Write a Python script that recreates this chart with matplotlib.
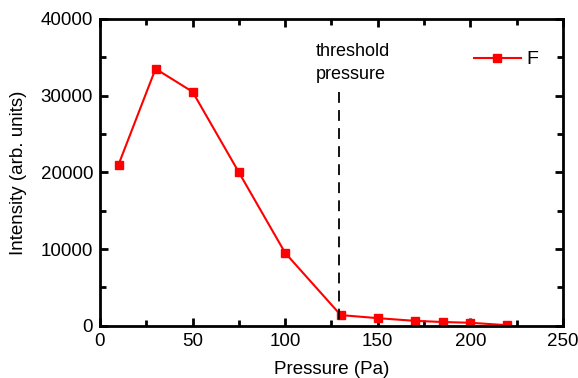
import numpy as np
import matplotlib
matplotlib.use('Agg')
import matplotlib.pyplot as plt
from matplotlib.ticker import MultipleLocator

# データ
pressure = [10, 30, 50, 75, 100, 130, 150, 170, 185, 200, 220]
intensity = [21000, 33500, 30500, 20000, 9500, 1400, 1000, 650, 500, 400, 80]
threshold = 129
threshold_top = 30500

plt.rcParams['font.family'] = ['Liberation Sans', 'DejaVu Sans']

fig = plt.figure(figsize=(5.78, 3.78), dpi=100)
ax = fig.add_axes([0.173, 0.138, 0.801, 0.812])

ax.plot(pressure, intensity, color='red', lw=1.5, marker='s', ms=6,
        label='F')
# 破線は上から描く
ax.plot([threshold, threshold], [threshold_top, 0], color='black',
        lw=1.3, ls=(0, (6, 4)))
ax.text(116.5, 36900, "threshold\npressure", fontsize=13, ha='left',
        va='top', linespacing=1.45)

ax.set_xlim(0, 250)
ax.set_ylim(0, 40000)
ax.xaxis.set_major_locator(MultipleLocator(50))
ax.xaxis.set_minor_locator(MultipleLocator(25))
ax.yaxis.set_major_locator(MultipleLocator(10000))
ax.yaxis.set_minor_locator(MultipleLocator(5000))
ax.tick_params(which='both', direction='in', top=True, right=True,
               width=2, labelsize=13.5)
ax.tick_params(which='major', length=6, pad=5)
ax.tick_params(which='minor', length=4)
for s in ax.spines.values():
    s.set_linewidth(2)

ax.set_xlabel("Pressure (Pa)", fontsize=13.5, labelpad=8)
ax.set_ylabel("Intensity (arb. units)", fontsize=13.5, labelpad=10)
ax.legend(loc='upper right', frameon=False, fontsize=14,
          bbox_to_anchor=(0.985, 0.953), handlelength=2.4,
          handletextpad=0.3)

plt.savefig('out.png', dpi=100)
